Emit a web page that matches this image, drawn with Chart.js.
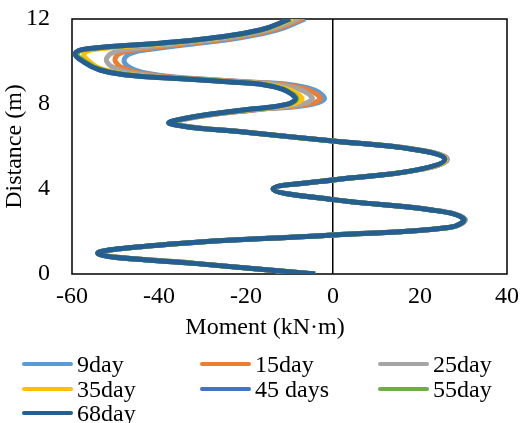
<!DOCTYPE html>
<html>
<head>
<meta charset="utf-8">
<script src="https://cdn.jsdelivr.net/npm/chart.js@4"></script>
<style>
  body { margin: 0; background: #fff; }
  #wrap { position: relative; width: 521px; height: 423px; overflow: hidden; }
  #legend {
    position: absolute; left: 22px; top: 352px;
    display: grid; grid-template-columns: 178px 178px 178px;
    font-family: "Liberation Serif", "Times New Roman", serif; font-size: 24px; line-height: 24.5px;
  }
  #legend div { display: flex; align-items: center; white-space: nowrap; }
  #legend span.ln { display: inline-block; width: 51px; height: 4px; border-radius: 2px; margin-right: 4px; }
</style>
</head>
<body>
<div id="wrap">
  <canvas id="myChart" width="521" height="423"></canvas>
  <div id="legend"></div>
</div>
<script>
// distance along the pile (m), shared by every series
var distance = [0, 0.5, 0.95, 1.4, 1.84, 2.2, 2.6, 3.0, 3.5, 4.0, 4.42, 4.9, 5.4, 5.85, 6.26, 6.65,
                7.08, 7.4, 7.72, 7.98, 8.3, 8.82, 9.05, 9.2, 9.36, 9.6, 9.99, 10.38, 10.6, 10.86, 11.09, 11.48, 12];

// moment (kN·m) for each day
var day9  = [-4.3, -31.5, -53.5, -37.5, 0, 27.3, 30.3, 23.3, 0, -13.6, 0, 19.6, 26.3, 19.4, 0, -18.6,
             -36.5, -31, -18, -5, -2.0, -7, -20, -32, -40, -45.5, -48, -46.5, -41, -31, -22, -12.9, -6.4];
var day15 = [-4.2, -31.6, -53.6, -37.6, 0, 27.2, 30.2, 23.2, 0, -13.7, 0, 19.5, 26.2, 19.3, 0, -18.7,
             -36.8, -31.3, -18.5, -6, -3.0, -8.5, -21, -33, -41.5, -47, -50, -49, -43, -33, -23.5, -14, -7];
var day25 = [-4.2, -31.7, -53.7, -37.7, 0, 27.1, 30.1, 23.1, 0, -13.7, 0, 19.4, 26.1, 19.2, 0, -18.8,
             -37, -31.5, -19, -7.5, -4.8, -10, -22, -34, -43, -49, -52, -51, -46, -35, -25, -15, -7.8];
var day35 = [-4.1, -31.9, -53.9, -37.9, 0, 27, 30, 23, 0, -13.8, 0, 19.3, 25.9, 19.1, 0, -18.9,
             -37.3, -31.8, -20, -9.5, -7.2, -12.5, -23.5, -35.5, -46, -52.5, -56, -57.2, -53.5, -38, -27.5, -16.3, -9.2];
var day45 = [-4.1, -32, -54, -38, 0, 27, 30, 23, 0, -13.8, 0, 19.3, 25.7, 19, 0, -19,
             -37.5, -32, -20.6, -10.6, -8.6, -13.6, -24.3, -36, -47.3, -53.5, -57.3, -59.1, -56.3, -39.7, -28.2, -16.7, -9.8];
var day55 = [-4.1, -32, -54, -38, 0, 27, 30, 23, 0, -13.8, 0, 19.3, 25.7, 19, 0, -19,
             -37.4, -32, -20.5, -10.4, -8.4, -13.4, -24.2, -35.9, -47.1, -53.2, -57, -58.8, -56, -39.5, -28.1, -16.6, -9.7];
var day68 = [-4.1, -32, -54, -38, 0, 27, 30, 23, 0, -13.8, 0, 19.3, 25.7, 19, 0, -19,
             -37.5, -32, -20.6, -10.7, -8.7, -13.7, -24.4, -36, -47.4, -53.6, -57.4, -59.3, -56.5, -39.8, -28.3, -16.8, -9.9];

var seriesNames  = ["9day", "15day", "25day", "35day", "45 days", "55day", "68day"];
var seriesValues = [day9, day15, day25, day35, day45, day55, day68];
var seriesColors = ["#5B9BD5", "#ED7D31", "#A5A5A5", "#FFC000", "#4472C4", "#70AD47", "#255E91"];

var FONT = "'Liberation Serif', 'Times New Roman', serif";

function toPoints(values) {
    return values.map((v, i) => ({ x: v, y: distance[i] }));
}

var datasets = seriesNames.map((name, i) => ({
    label: name,
    data: toPoints(seriesValues[i]),
    borderColor: seriesColors[i],
    backgroundColor: seriesColors[i],
    borderWidth: 5,
    pointRadius: 0,
    showLine: true,
    tension: 0.45,
    order: seriesNames.length - 1 - i
}));

// plot area frame, plus the x title centred on the whole chart like Excel does
var plotBox = {
    id: "plotBox",
    beforeDatasetsDraw(chart) {
        const a = chart.chartArea, c = chart.ctx;
        c.save();
        c.strokeStyle = "#000";
        c.lineWidth = 1.5;
        c.strokeRect(a.left, a.top, a.right - a.left, a.bottom - a.top);
        c.restore();
    },
    afterDraw(chart) {
        const t = chart.options.scales.x.title, c = chart.ctx;
        c.save();
        c.fillStyle = "#000";
        c.font = "24px " + FONT;
        c.textAlign = "center";
        c.textBaseline = "middle";
        c.fillText(t.text, 265, 328);
        c.restore();
    }
};

var ctx = document.getElementById("myChart").getContext("2d");
var chart = new Chart(ctx, {
    type: "scatter",
    data: { datasets: datasets },
    options: {
        responsive: false,
        animation: false,
        layout: { padding: { left: 0, right: 0, top: 0, bottom: 79 } },
        plugins: { legend: { display: false }, tooltip: { enabled: false } },
        scales: {
            x: {
                type: "linear",
                min: -60, max: 40,
                afterFit: (s) => { s.height = 70; s.paddingLeft = 0; s.paddingRight = 14; },
                ticks: { stepSize: 20, padding: 8, color: "#000", font: { family: FONT, size: 24 } },
                grid: {
                    drawTicks: false,
                    color: (c) => c.tick && c.tick.value === 0 ? "#000" : "rgba(0,0,0,0)",
                    lineWidth: 1.5
                },
                border: { display: false },
                title: { display: false, text: "Moment (kN·m)" }
            },
            y: {
                type: "linear",
                min: 0, max: 12,
                afterFit: (s) => { s.width = 72; s.paddingTop = 19; s.paddingBottom = 0; },
                ticks: { stepSize: 4, padding: 22, color: "#000", font: { family: FONT, size: 24 } },
                grid: { display: false, drawTicks: false },
                border: { display: false },
                title: { display: true, text: "Distance (m)", color: "#000", padding: 0, font: { family: FONT, size: 24 } }
            }
        }
    },
    plugins: [plotBox]
});

// legend in three fixed columns, built from the chart's datasets
var legend = document.getElementById("legend");
chart.data.datasets.forEach((ds) => {
    var item = document.createElement("div");
    var ln = document.createElement("span");
    ln.className = "ln";
    ln.style.background = ds.borderColor;
    item.appendChild(ln);
    item.appendChild(document.createTextNode(ds.label));
    legend.appendChild(item);
});
</script>
</body>
</html>
